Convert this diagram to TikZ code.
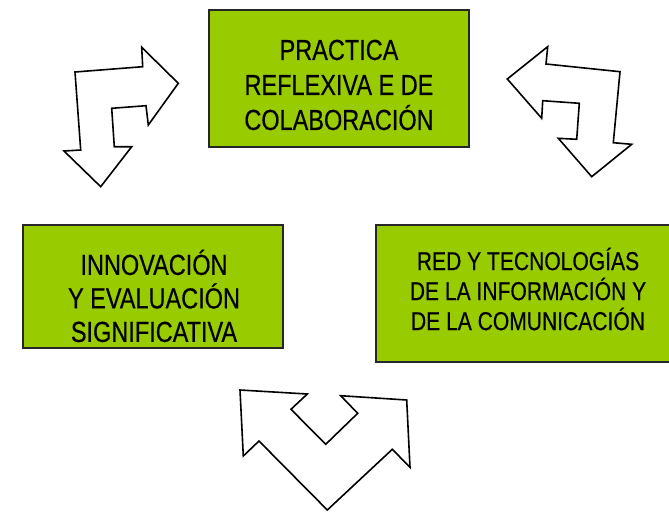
\documentclass[tikz,border=0pt]{standalone}
\usepackage{fontspec}
\setmainfont[FakeStretch=0.81,FakeBold=0.4]{Liberation Sans}
\usepackage{tikz}
\usetikzlibrary{positioning}

\definecolor{boxgreen}{RGB}{153,204,0}
\tikzset{
  greenbox/.style={fill=boxgreen, draw=black!85, line width=1.2pt},
  boxtext/.style={align=center, inner sep=0pt},
  bigarrow/.style={draw=black, fill=white, line width=1.6pt, line join=miter}
}

\begin{document}
\begin{tikzpicture}[x=1pt,y=-1pt]
\useasboundingbox (0,0) rectangle (669,512);
% boxes
\draw[greenbox] (209,10) rectangle (469,147);
\node[boxtext, font=\fontsize{29}{35}\selectfont] (practica) at (339,85) {PRACTICA\\REFLEXIVA E DE\\COLABORACIÓN};
\draw[greenbox] (23,225) rectangle (283,348);
\node[boxtext, font=\fontsize{29}{33.5}\selectfont] (innovacion) at (154,296) {INNOVACIÓN\\Y EVALUACIÓN\\SIGNIFICATIVA};
\draw[greenbox] (376,225) rectangle (672,362);
\node[boxtext, font=\fontsize{26}{30}\selectfont] (red) at (528,289) {RED Y TECNOLOGÍAS\\DE LA INFORMACIÓN Y\\DE LA COMUNICACIÓN};
% arrows
\draw[bigarrow] (75,72) -- (142.7,66.7) -- (141.7,47.3) -- (178.3,83.3) -- (148.3,125)
  -- (146,105.7) -- (111.7,108.3) -- (114.3,146.7) -- (131.7,146.7) -- (100.7,186.7)
  -- (64,151) -- (80.7,150) -- cycle;
\draw[bigarrow] (507.3,79) -- (547.7,46.7) -- (546,64) -- (620,71.7) -- (613.3,142.7)
  -- (631.7,144.3) -- (591.7,176.7) -- (558.3,138.3) -- (576.7,139.3) -- (579.3,103.3)
  -- (542.7,100.7) -- (541.7,118.3) -- cycle;
\draw[bigarrow] (240,390) -- (307.3,394) -- (291,409.3) -- (325.7,444.3) -- (357.7,413.3)
  -- (340.7,395.7) -- (406.7,400) -- (410,467.3) -- (392.3,449.3) -- (327.3,510)
  -- (259,441) -- (243.3,456) -- cycle;
\end{tikzpicture}
\end{document}
